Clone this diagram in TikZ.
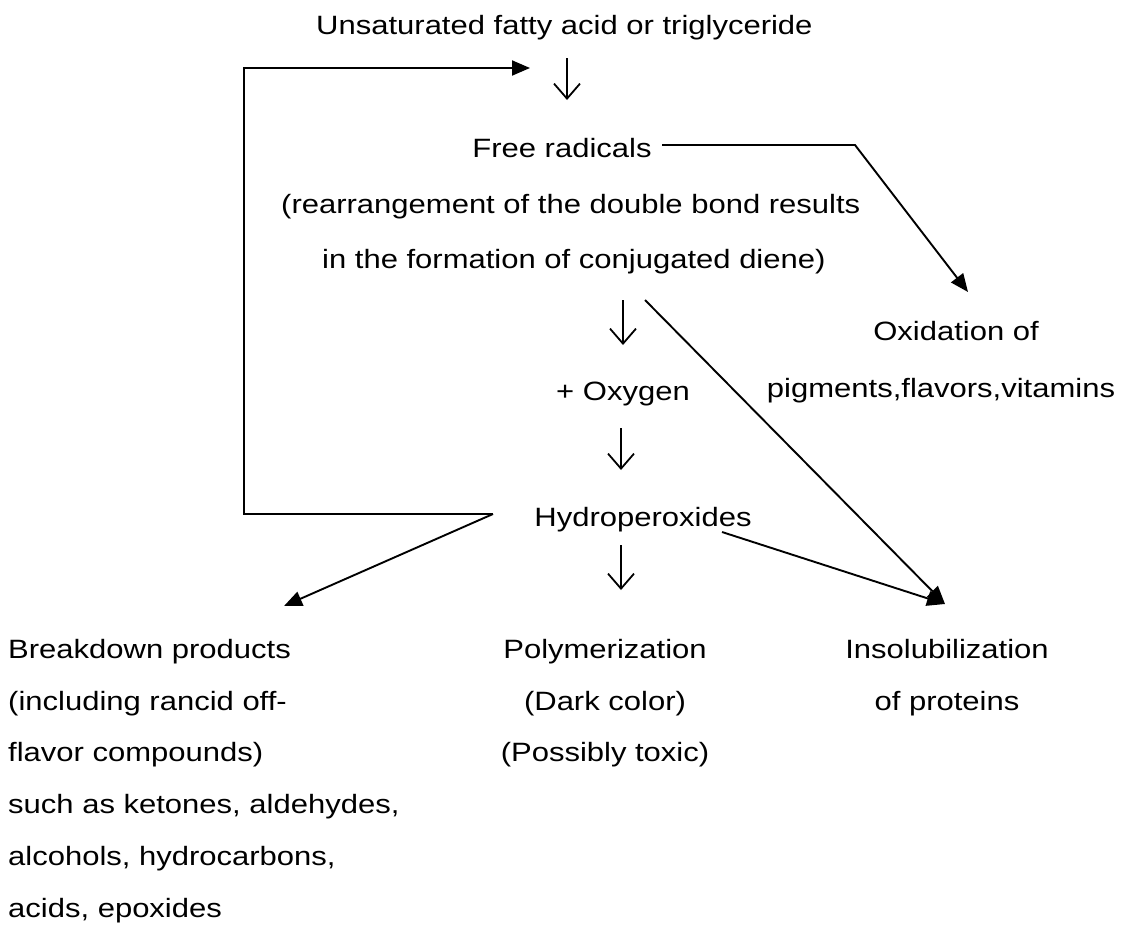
\documentclass[tikz,border=0pt]{standalone}
\usepackage{fontspec}
\setmainfont{Liberation Sans}[FakeStretch=1.17]
\usetikzlibrary{arrows.meta}
\begin{document}
\begin{tikzpicture}[x=1pt,y=-1pt,
  lbl/.style={inner sep=0pt,font=\fontsize{26.5}{30}\selectfont},
  down/.style={line width=1.8pt,-{Straight Barb[length=15pt,width=26pt,line width=1.8pt]}},
  tri/.style={line width=1.9pt,-{Triangle[length=18pt,width=15pt]}}]
\useasboundingbox (0,0) rectangle (1127,951);
% texts
\node[lbl,anchor=base west] (title) at (316,34) {Unsaturated fatty acid or triglyceride};
\node[lbl,anchor=base] (fr) at (562,157) {Free radicals};
\node[lbl,anchor=base west] (re1) at (281,213) {(rearrangement of the double bond results};
\node[lbl,anchor=base west] (re2) at (322,268) {in the formation of conjugated diene)};
\node[lbl,anchor=base] (ox1) at (956,340) {Oxidation of};
\node[lbl,anchor=base] (ox2) at (941,397) {pigments,flavors,vitamins};
\node[lbl,anchor=base] (oxy) at (623,400) {+ Oxygen};
\node[lbl,anchor=base] (hy) at (643,526) {Hydroperoxides};
\node[lbl,anchor=base west] (b1) at (8,658) {Breakdown products};
\node[lbl,anchor=base west] (b2) at (8,710) {(including rancid off-};
\node[lbl,anchor=base west] (b3) at (8,761) {flavor compounds)};
\node[lbl,anchor=base west] (b4) at (8,813) {such as ketones, aldehydes,};
\node[lbl,anchor=base west] (b5) at (8,865) {alcohols, hydrocarbons,};
\node[lbl,anchor=base west] (b6) at (8,917) {acids, epoxides};
\node[lbl,anchor=base] (p1) at (605,658) {Polymerization};
\node[lbl,anchor=base] (p2) at (605,710) {(Dark color)};
\node[lbl,anchor=base] (p3) at (605,761) {(Possibly toxic)};
\node[lbl,anchor=base] (i1) at (947,658) {Insolubilization};
\node[lbl,anchor=base] (i2) at (947,710) {of proteins};
% connector points
\coordinate (d1a) at (567,58);  \coordinate (d1b) at (567,100);
\coordinate (d2a) at (623,300); \coordinate (d2b) at (623,345);
\coordinate (d3a) at (621,428); \coordinate (d3b) at (621,470);
\coordinate (d4a) at (621,545); \coordinate (d4b) at (621,590);
\coordinate (hyj) at (493,514);
\coordinate (fbc1) at (244,514);
\coordinate (fbc2) at (244,68);
\coordinate (fbt) at (530,68);
\coordinate (frs) at (662,145);
\coordinate (frk) at (855,145);
\coordinate (oxt) at (968,292);
\coordinate (des) at (645,300);
\coordinate (hys) at (722,532);
\coordinate (inst) at (945,604);
\coordinate (brt) at (284,606);
% arrows
\draw[down] (d1a) -- (d1b);
\draw[down] (d2a) -- (d2b);
\draw[down] (d3a) -- (d3b);
\draw[down] (d4a) -- (d4b);
\draw[tri] (hyj) -- (fbc1) -- (fbc2) -- (fbt);
\draw[tri] (hyj) -- (brt);
\draw[tri] (frs) -- (frk) -- (oxt);
\draw[tri] (des) -- (inst);
\draw[tri] (hys) -- (inst);
\end{tikzpicture}
\end{document}
